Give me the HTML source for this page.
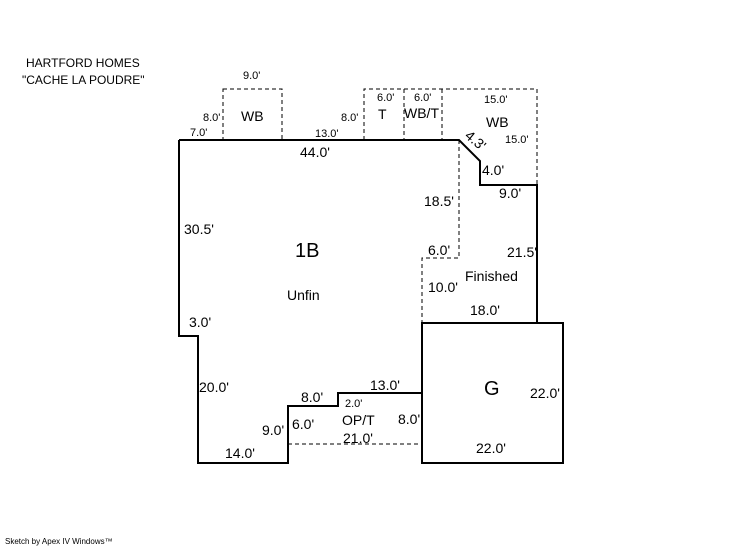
<!DOCTYPE html>
<html><head><style>
html,body{margin:0;padding:0;background:#fff;}
svg{display:block;}
text{font-family:"Liberation Sans",sans-serif;fill:#000;}
</style></head><body>
<svg width="746" height="547" viewBox="0 0 746 547" xmlns="http://www.w3.org/2000/svg">
<g fill="none" stroke="#000" stroke-width="1" stroke-dasharray="4,3">
<rect x="223" y="89" width="59" height="51"/>
<polyline points="364,140 364,89 537,89 537,185"/>
<line x1="404" y1="89" x2="404" y2="140"/>
<line x1="442" y1="89" x2="442" y2="140"/>
<polyline points="459,140 459,258 422,258 422,323"/>
<line x1="288" y1="444" x2="422" y2="444"/>
</g>
<g fill="none" stroke="#000" stroke-width="2">
<polyline points="179,140 459,140 480,161 480,185 537,185 537,323"/>
<polyline points="422,393 338,393 338,406 288,406 288,463 198,463 198,336 179,336 179,140"/>
<line x1="422" y1="323" x2="537" y2="323"/>
<rect x="422" y="323" width="141" height="140"/>
</g>
<g font-size="12">
<text x="26" y="67">HARTFORD HOMES</text>
<text x="22" y="84">"CACHE LA POUDRE"</text>
</g>
<g font-size="11">
<text x="243" y="79">9.0'</text>
<text x="203" y="121">8.0'</text>
<text x="190" y="136">7.0'</text>
<text x="315" y="137">13.0'</text>
<text x="341" y="121">8.0'</text>
<text x="377" y="101">6.0'</text>
<text x="414" y="101">6.0'</text>
<text x="484" y="103">15.0'</text>
<text x="505" y="143">15.0'</text>
<text x="345" y="407">2.0'</text>
</g>
<g font-size="14">
<text x="241" y="121">WB</text>
<text x="378" y="119">T</text>
<text x="404" y="118">WB/T</text>
<text x="486" y="127">WB</text>
<text x="300" y="157">44.0'</text>
<text x="464" y="137" transform="rotate(40 464 137)">4.3'</text>
<text x="482" y="175">4.0'</text>
<text x="499" y="198">9.0'</text>
<text x="424" y="206">18.5'</text>
<text x="184" y="234">30.5'</text>
<text x="428" y="255">6.0'</text>
<text x="507" y="257">21.5'</text>
<text x="465" y="281">Finished</text>
<text x="428" y="292">10.0'</text>
<text x="287" y="300">Unfin</text>
<text x="470" y="315">18.0'</text>
<text x="189" y="327">3.0'</text>
<text x="199" y="392">20.0'</text>
<text x="370" y="390">13.0'</text>
<text x="301" y="402">8.0'</text>
<text x="530" y="398">22.0'</text>
<text x="342" y="425">OP/T</text>
<text x="398" y="424">8.0'</text>
<text x="262" y="435">9.0'</text>
<text x="292" y="429">6.0'</text>
<text x="343" y="443">21.0'</text>
<text x="476" y="453">22.0'</text>
<text x="225" y="458">14.0'</text>
</g>
<text x="295" y="257" font-size="20">1B</text>
<text x="484" y="395" font-size="20">G</text>
<text x="5" y="544" font-size="8">Sketch by Apex IV Windows™</text>
</svg>
</body></html>
